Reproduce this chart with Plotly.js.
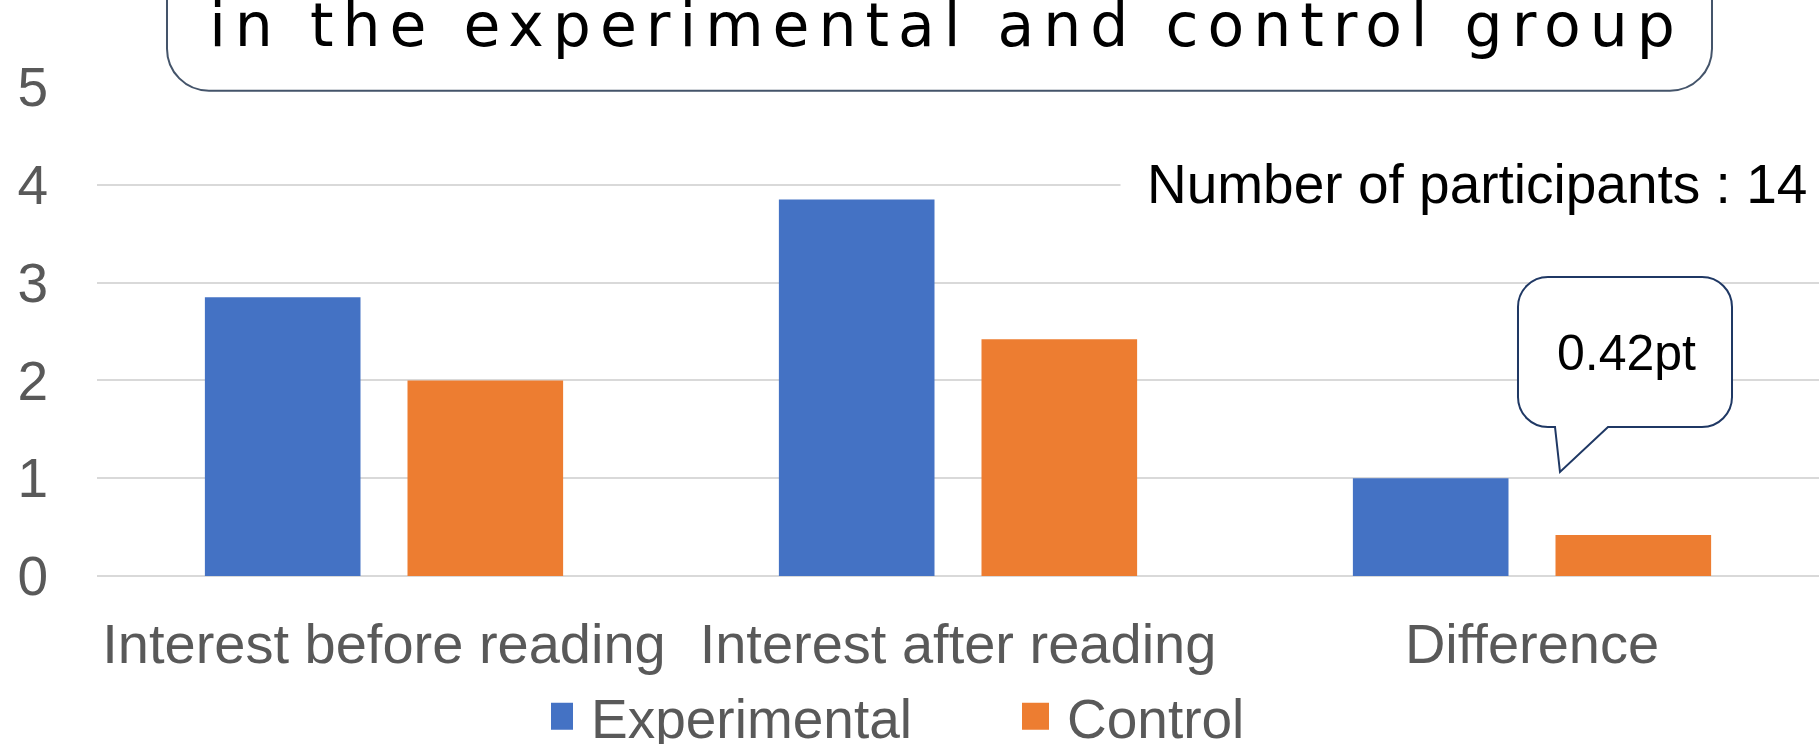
<!DOCTYPE html>
<html><head><meta charset="utf-8">
<script src="https://cdn.plot.ly/plotly-3.0.1.min.js"></script>
<style>
html,body{margin:0;padding:0;background:#fff;overflow:hidden}
#chart{width:1819px;height:744px}
.gtitle{letter-spacing:9px}
</style></head><body><div id="chart"></div>
<script>
const categories = ['Interest before reading', 'Interest after reading', 'Difference'];
const experimental = [2.85, 3.85, 1.00];
const control = [2.00, 2.42, 0.42];
const seriesNames = ['Experimental', 'Control'];
const yTicks = [0, 1, 2, 3, 4, 5];
const titleText = 'in the experimental and control group';
const participantsNote = 'Number of participants : 14';
const calloutText = '0.42pt';

const FONT = 'Liberation Sans, Arial, sans-serif';
const TFONT = 'DejaVu Sans, Liberation Sans, sans-serif';
const W = 1819, H = 744, M = {l: 97, r: 0, t: 87, b: 168, autoexpand: false};
const PW = W - M.l - M.r, PH = H - M.t - M.b;
const px = x => (x - M.l) / PW;
const py = y => (H - M.b - y) / PH;
const P = (x, y) => px(x).toFixed(5) + ',' + py(y).toFixed(5);
const K = 0.5523;

function roundRect(x0, y0, x1, y1, r, tail) {
  let s = 'M' + P(x0 + r, y0) + ' L' + P(x1 - r, y0);
  s += ' C' + P(x1 - r + K * r, y0) + ' ' + P(x1, y0 + r - K * r) + ' ' + P(x1, y0 + r);
  s += ' L' + P(x1, y1 - r);
  s += ' C' + P(x1, y1 - r + K * r) + ' ' + P(x1 - r + K * r, y1) + ' ' + P(x1 - r, y1);
  if (tail) {
    s += ' L' + P(tail[2], y1) + ' L' + P(tail[1][0], tail[1][1]) + ' L' + P(tail[0], y1);
  }
  s += ' L' + P(x0 + r, y1);
  s += ' C' + P(x0 + r - K * r, y1) + ' ' + P(x0, y1 - r + K * r) + ' ' + P(x0, y1 - r);
  s += ' L' + P(x0, y0 + r);
  s += ' C' + P(x0, y0 + r - K * r) + ' ' + P(x0 + r - K * r, y0) + ' ' + P(x0 + r, y0) + ' Z';
  return s;
}

const data = [
  {type: 'bar', name: seriesNames[0], x: categories, y: experimental, marker: {color: '#4472C4'}, hoverinfo: 'skip'},
  {type: 'bar', name: seriesNames[1], x: categories, y: control, marker: {color: '#ED7D31'}, hoverinfo: 'skip'}
];

const layout = {
  width: W, height: H,
  margin: M,
  paper_bgcolor: '#fff', plot_bgcolor: '#fff',
  font: {family: FONT, color: '#595959'},
  barmode: 'group', bargap: 0.294, bargroupgap: 0.232,
  title: {
    text: titleText,
    font: {family: TFONT, size: 60, color: '#000'},
    xref: 'container', x: 946.5 / W, xanchor: 'center',
    yref: 'container', y: 1 - 46 / H, yanchor: 'bottom',
    pad: {t: 0, b: 0, l: 0, r: 0}
  },
  xaxis: {
    type: 'category', showgrid: false, showline: false, zeroline: false, automargin: false,
    tickfont: {family: FONT, size: 56, color: '#595959'},
    ticks: '', ticklabelstandoff: 30
  },
  yaxis: {
    range: [0, 5], tickvals: yTicks, ticktext: yTicks.map(String), automargin: false,
    showgrid: true, gridcolor: '#D9D9D9', gridwidth: 2,
    zeroline: true, zerolinecolor: '#D9D9D9', zerolinewidth: 2,
    showline: false, ticks: '',
    tickfont: {family: FONT, size: 55, color: '#595959'},
    ticklabelstandoff: 48
  },
  showlegend: true,
  legend: {
    orientation: 'h', xref: 'paper', yref: 'paper',
    x: px(551), xanchor: 'left', y: py(674), yanchor: 'top',
    font: {family: FONT, size: 55, color: '#595959'},
    entrywidth: 431, entrywidthmode: 'pixels', itemwidth: 30,
    bgcolor: 'rgba(0,0,0,0)', traceorder: 'normal'
  },
  shapes: [
    {type: 'path', xref: 'paper', yref: 'paper', layer: 'above',
     path: roundRect(167, -80, 1712, 90.7, 42),
     fillcolor: '#fff', line: {color: '#44546A', width: 2}},
    {type: 'path', xref: 'paper', yref: 'paper', layer: 'above',
     path: roundRect(1518, 277, 1732, 427, 30, [1555, [1560, 472], 1608]),
     fillcolor: '#fff', line: {color: '#1F3864', width: 2}}
  ],
  annotations: [
    {text: participantsNote, xref: 'paper', yref: 'paper', x: px(1120), xanchor: 'left',
     y: py(184), yanchor: 'middle', showarrow: false, bgcolor: '#fff', borderpad: 26,
     font: {family: FONT, size: 55, color: '#000'}},
    {text: calloutText, xref: 'paper', yref: 'paper', x: px(1626), xanchor: 'center',
     y: py(353), yanchor: 'middle', showarrow: false,
     font: {family: FONT, size: 50, color: '#000'}}
  ]
};

Plotly.newPlot('chart', data, layout, {staticPlot: true, displayModeBar: false}).then(gd => {
  gd.querySelectorAll('.legend .legendpoints path').forEach(p => p.setAttribute('d', 'M2,13.5H-25V-13.5H2Z'));
});
</script></body></html>
